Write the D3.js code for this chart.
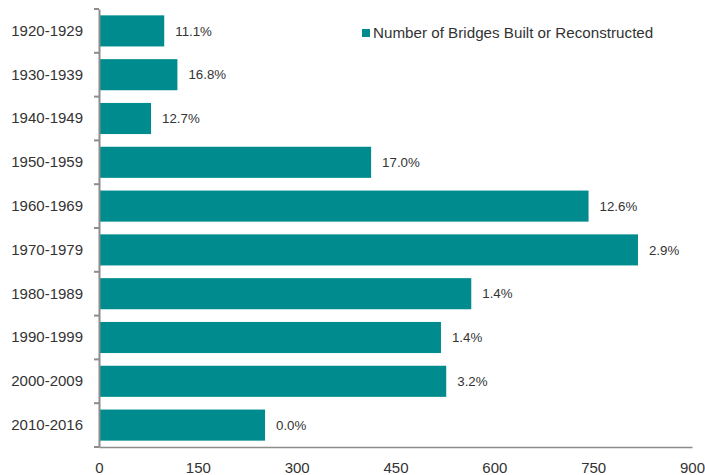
<!DOCTYPE html>
<html><head><meta charset="utf-8">
<script src="https://cdn.jsdelivr.net/npm/d3@7"></script>
<style>body{margin:0;background:#fff;} text{font-family:"Liberation Sans",Arial,sans-serif;}</style>
</head><body><svg id="c" width="705" height="475"></svg>
<script>
const categories = ["1920-1929","1930-1939","1940-1949","1950-1959","1960-1969","1970-1979","1980-1989","1990-1999","2000-2009","2010-2016"];
const bridges = [99,119,79,413,743,818,565,519,527,252];
const pctLabels = ["11.1%","16.8%","12.7%","17.0%","12.6%","2.9%","1.4%","1.4%","3.2%","0.0%"];
const xTicks = [0,150,300,450,600,750,900];
const seriesName = "Number of Bridges Built or Reconstructed";

(function(){
const svg = d3.select("#c");
const mL = 99, mR = 692, mT = 9, mB = 447;
const x = d3.scaleLinear().domain([0,900]).range([mL,mR]);
const y = d3.scaleBand().domain(categories).range([mT,mB]).paddingInner(0.29).paddingOuter(0.145);
const textCol = "#333", axisCol = "#8c8c8c", barCol = "#008C8E";

svg.selectAll("rect.bar").data(categories).enter().append("rect")
  .attr("x", x(0)).attr("y", d=>y(d)).attr("height", y.bandwidth())
  .attr("width", (d,i)=>x(bridges[i])-x(0)).attr("fill", barCol);

svg.selectAll("text.val").data(categories).enter().append("text")
  .attr("x",(d,i)=>x(bridges[i])+11).attr("y",d=>y(d)+y.bandwidth()/2).attr("dy","0.36em")
  .attr("font-size",13.3).attr("fill",textCol).text((d,i)=>pctLabels[i]);

const xa = svg.append("g").attr("transform",`translate(0,${mB})`)
  .call(d3.axisBottom(x).tickValues(xTicks).tickSize(0).tickPadding(15).tickFormat(d3.format("d")));
xa.select(".domain").attr("stroke",axisCol).attr("stroke-width",1.5);
xa.selectAll("text").attr("font-size",15).attr("fill",textCol).attr("font-family","Liberation Sans, Arial, sans-serif");

const ya = svg.append("g").attr("transform",`translate(${mL},0)`)
  .call(d3.axisLeft(y).tickSize(0).tickPadding(16));
ya.select(".domain").attr("stroke",axisCol).attr("stroke-width",2);
ya.selectAll("text").attr("font-size",15).attr("fill",textCol).attr("font-family","Liberation Sans, Arial, sans-serif");
const step = y.step();
const bounds = d3.range(categories.length+1).map(i=>mT+i*step);
svg.selectAll("line.yt").data(bounds).enter().append("line")
  .attr("x1",mL-5).attr("x2",mL).attr("y1",d=>d).attr("y2",d=>d)
  .attr("stroke",axisCol).attr("stroke-width",2);

const lg = svg.append("g").attr("transform","translate(362,29)");
lg.append("rect").attr("width",8).attr("height",8).attr("fill",barCol);
lg.append("text").attr("x",11).attr("y",8.5).attr("font-size",15.2).attr("fill",textCol).text(seriesName);
})();
</script></body></html>
